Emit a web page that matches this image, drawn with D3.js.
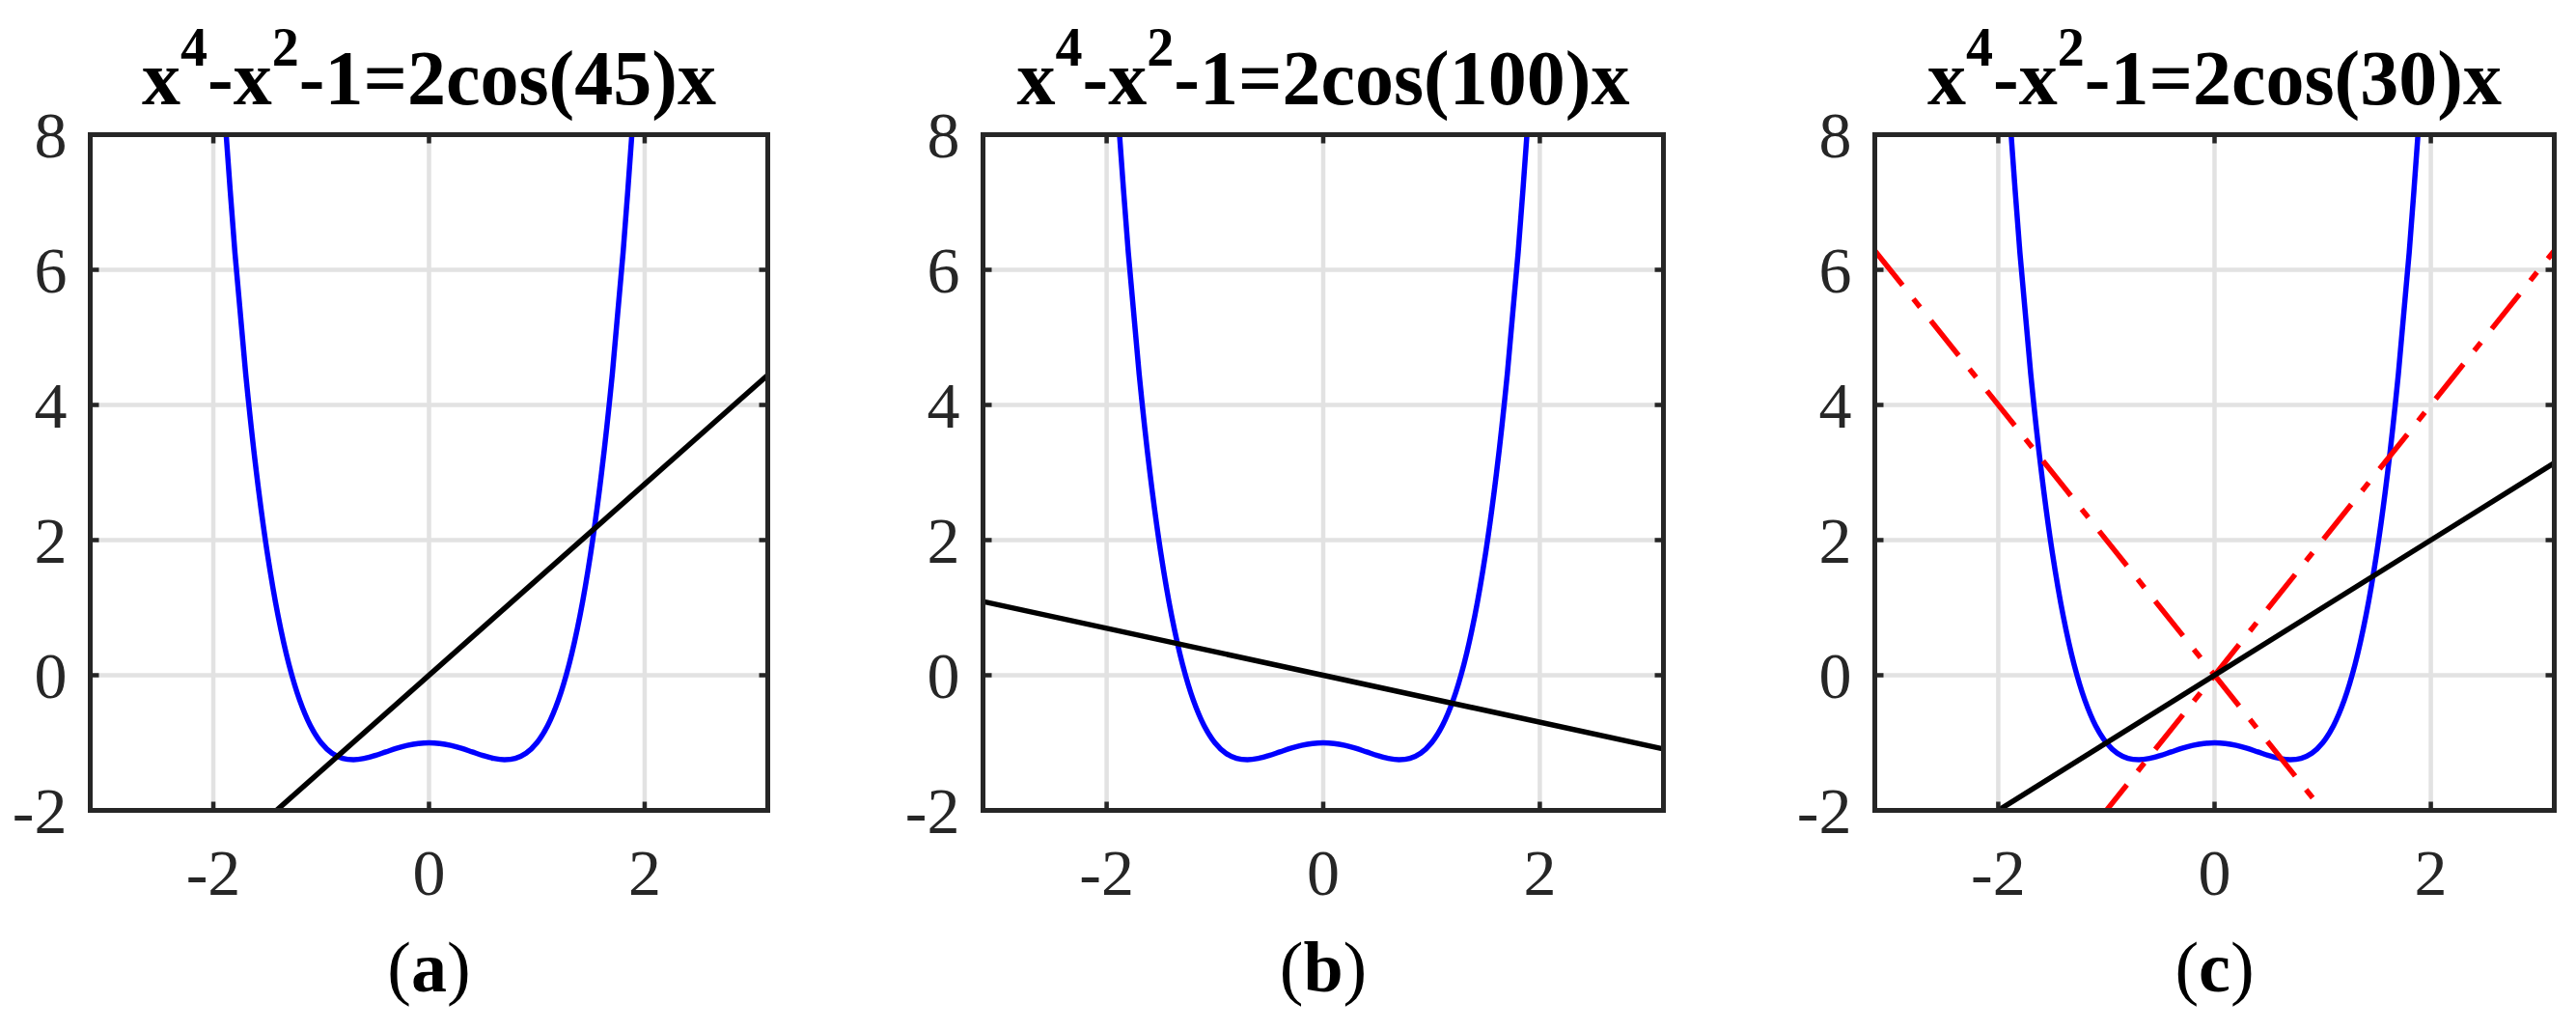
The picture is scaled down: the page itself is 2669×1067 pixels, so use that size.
<!DOCTYPE html>
<html>
<head>
<meta charset="utf-8">
<script src="https://cdn.jsdelivr.net/npm/d3@7"></script>
<style>
  html, body { margin: 0; padding: 0; background: #fff; }
  svg { display: block; }
</style>
</head>
<body>
<svg id="chart" width="2669" height="1067"></svg>
<script>
// ---------- data ----------
const panelLabels = ["a", "b", "c"];
const titleAngles = ["45", "100", "30"];
const xTicks = [-2, 0, 2];
const yTicks = [-2, 0, 2, 4, 6, 8];
const xDomain = [-Math.PI, Math.PI];
const yDomain = [-2, 8];

// blue quartic curve samples (x^4 - x^2 - 1)
const curveX = [-1.9, -1.8, -1.7, -1.6, -1.5, -1.4, -1.3, -1.2, -1.1, -1.0,
                -0.9, -0.8, -0.7, -0.6, -0.5, -0.4, -0.3, -0.2, -0.1, 0.0,
                 0.1, 0.2, 0.3, 0.4, 0.5, 0.6, 0.7, 0.8, 0.9, 1.0,
                 1.1, 1.2, 1.3, 1.4, 1.5, 1.6, 1.7, 1.8, 1.9];
const curveY = [8.4221, 6.2576, 4.4621, 2.9936, 1.8125, 0.8816, 0.1661, -0.3664, -0.7459, -1.0,
                -1.1539, -1.2304, -1.2499, -1.2304, -1.1875, -1.1344, -1.0819, -1.0384, -1.0099, -1.0,
                -1.0099, -1.0384, -1.0819, -1.1344, -1.1875, -1.2304, -1.2499, -1.2304, -1.1539, -1.0,
                -0.7459, -0.3664, 0.1661, 0.8816, 1.8125, 2.9936, 4.4621, 6.2576, 8.4221];

// straight lines: endpoints at x = -pi and x = pi
const lineX = [-3.1416, 3.1416];
const lineA = [-4.4429, 4.4429];   // panel (a) black
const lineB = [1.0911, -1.0911];   // panel (b) black
const lineC = [-3.1416, 3.1416];   // panel (c) black
const redUp = [-6.2832, 6.2832];   // panel (c) red dash-dot
const redDown = [6.2832, -6.2832]; // panel (c) red dash-dot

const blackLines = [lineA, lineB, lineC];
const redLines = [[], [], [redDown, redUp]];

// ---------- layout ----------
const boxes = [
  {x0: 93.5, x1: 795.5},
  {x0: 1018.5, x1: 1723.5},
  {x0: 1942.5, x1: 2646.5}
];
const yTop = 139.5, yBot = 839.5;

const svg = d3.select("#chart");
const FONT = "'Liberation Serif', 'Times New Roman', serif";
const AX = "#262626";

boxes.forEach((b, i) => {
  const x = d3.scaleLinear().domain(xDomain).range([b.x0, b.x1]);
  const y = d3.scaleLinear().domain(yDomain).range([yBot, yTop]);
  const g = svg.append("g");
  const clipId = "clip" + i;
  g.append("clipPath").attr("id", clipId)
    .append("rect").attr("x", b.x0).attr("y", yTop)
    .attr("width", b.x1 - b.x0).attr("height", yBot - yTop);

  // grid
  const grid = g.append("g");
  grid.selectAll("line.gx").data(xTicks).join("line")
    .attr("x1", d => x(d)).attr("x2", d => x(d))
    .attr("y1", yTop).attr("y2", yBot)
    .attr("stroke", "#e2e2e2").attr("stroke-width", 4.5);
  grid.selectAll("line.gy").data(yTicks).join("line")
    .attr("y1", d => y(d)).attr("y2", d => y(d))
    .attr("x1", b.x0).attr("x2", b.x1)
    .attr("stroke", "#e2e2e2").attr("stroke-width", 4.5);

  const plot = g.append("g").attr("clip-path", `url(#${clipId})`);

  // blue curve
  const pts = curveX.map((v, k) => [v, curveY[k]]);
  plot.append("path").datum(pts)
    .attr("d", d3.line().x(d => x(d[0])).y(d => y(d[1])).curve(d3.curveCatmullRom.alpha(0.5)))
    .attr("fill", "none").attr("stroke", "#0000ff").attr("stroke-width", 5.5);

  const straight = d3.line().x(d => x(d[0])).y(d => y(d[1]));

  // red dash-dot lines
  redLines[i].forEach(ly => {
    plot.append("path").datum(lineX.map((v, k) => [v, ly[k]]))
      .attr("d", straight)
      .attr("fill", "none").attr("stroke", "#ff0000").attr("stroke-width", 5.5)
      .attr("stroke-dasharray", "46,18,11,18");
  });

  // black line
  plot.append("path").datum(lineX.map((v, k) => [v, blackLines[i][k]]))
    .attr("d", straight)
    .attr("fill", "none").attr("stroke", "#000").attr("stroke-width", 5.5);

  // ticks (inward, all four sides)
  const tl = 9;
  const tk = g.append("g").attr("stroke", AX).attr("stroke-width", 4.5);
  xTicks.forEach(t => {
    tk.append("line").attr("x1", x(t)).attr("x2", x(t)).attr("y1", yBot).attr("y2", yBot - tl);
    tk.append("line").attr("x1", x(t)).attr("x2", x(t)).attr("y1", yTop).attr("y2", yTop + tl);
  });
  yTicks.forEach(t => {
    tk.append("line").attr("y1", y(t)).attr("y2", y(t)).attr("x1", b.x0).attr("x2", b.x0 + tl);
    tk.append("line").attr("y1", y(t)).attr("y2", y(t)).attr("x1", b.x1).attr("x2", b.x1 - tl);
  });

  // box
  g.append("rect").attr("x", b.x0).attr("y", yTop)
    .attr("width", b.x1 - b.x0).attr("height", yBot - yTop)
    .attr("fill", "none").attr("stroke", AX).attr("stroke-width", 5);

  // tick labels
  g.selectAll("text.xt").data(xTicks).join("text")
    .attr("x", d => x(d)).attr("y", 927)
    .attr("text-anchor", "middle")
    .attr("font-family", FONT).attr("font-size", 68).attr("fill", AX)
    .text(d => d);
  g.selectAll("text.yt").data(yTicks).join("text")
    .attr("x", b.x0 - 24).attr("y", d => y(d)).attr("dy", "0.34em")
    .attr("text-anchor", "end")
    .attr("font-family", FONT).attr("font-size", 68).attr("fill", AX)
    .text(d => d);

  // title
  const cx = (b.x0 + b.x1) / 2;
  const title = g.append("text")
    .attr("x", cx).attr("y", 108).attr("text-anchor", "middle")
    .attr("font-family", FONT).attr("font-weight", "bold").attr("font-size", 80).attr("fill", "#000");
  title.append("tspan").text("x");
  title.append("tspan").attr("dy", -40).attr("font-size", 56).text("4");
  title.append("tspan").attr("dy", 40).text("-x");
  title.append("tspan").attr("dy", -40).attr("font-size", 56).text("2");
  title.append("tspan").attr("dy", 40).text("-1=2cos(" + titleAngles[i] + ")x");

  // sub-caption
  const cap = g.append("text")
    .attr("x", cx).attr("y", 1027).attr("text-anchor", "middle")
    .attr("font-family", FONT).attr("font-size", 74).attr("fill", "#000");
  cap.append("tspan").text("(");
  cap.append("tspan").attr("font-weight", "bold").text(panelLabels[i]);
  cap.append("tspan").text(")");
});
</script>
</body>
</html>
